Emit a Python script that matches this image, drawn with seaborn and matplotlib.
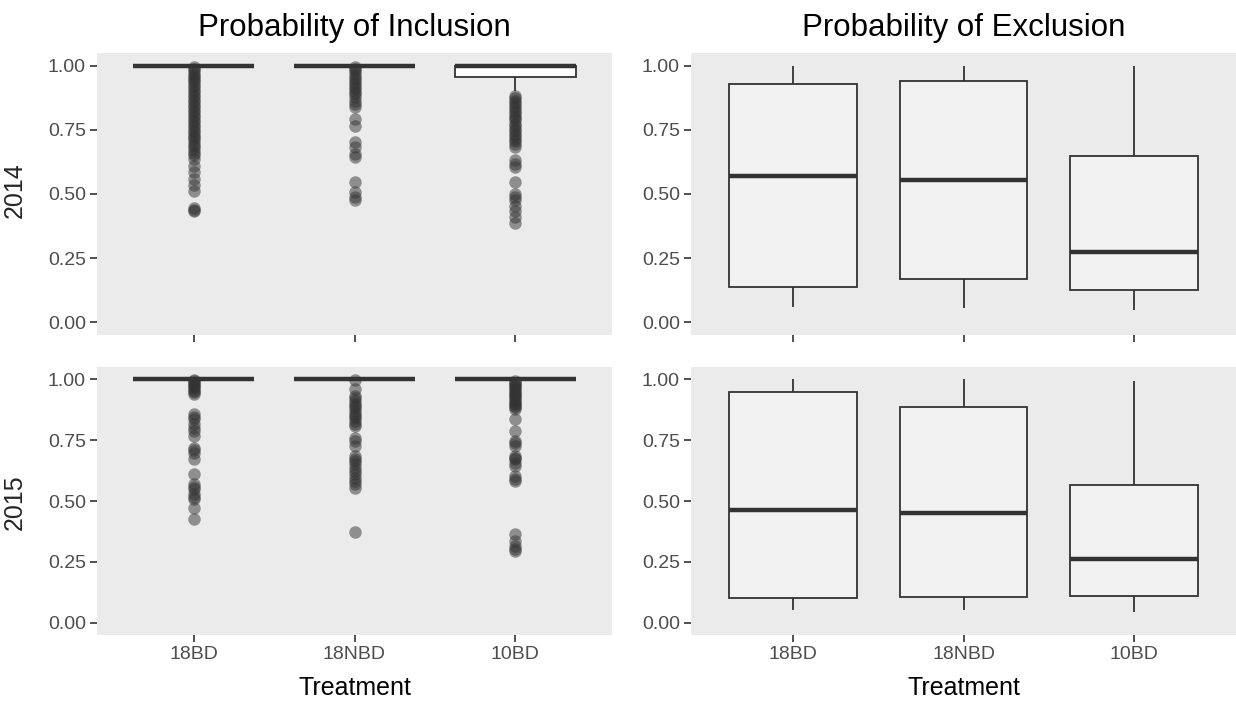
import numpy as np
import pandas as pd
import seaborn as sns
import matplotlib.pyplot as plt

treatments = ['18BD', '18NBD', '10BD']
years = ['2014', '2015']

# Probability of Inclusion: most observations sit at 1.00, the rest are outliers
incl_ones = 150
incl_2014_18BD = [0.995, 0.987, 0.978, 0.968, 0.960, 0.952, 0.944, 0.936, 0.926, 0.916,
                  0.907, 0.897, 0.887, 0.877, 0.868, 0.858, 0.848, 0.838, 0.829, 0.819,
                  0.810, 0.800, 0.790, 0.780, 0.770, 0.761, 0.751, 0.742, 0.732, 0.722,
                  0.713, 0.703, 0.693, 0.683, 0.671, 0.661, 0.651, 0.638, 0.608, 0.586,
                  0.560, 0.534, 0.511, 0.445, 0.438, 0.432]
incl_2014_18NBD = [0.995, 0.987, 0.978, 0.968, 0.958, 0.948, 0.938, 0.929, 0.919, 0.909,
                   0.899, 0.890, 0.877, 0.864, 0.851, 0.838, 0.793, 0.767, 0.702, 0.683,
                   0.657, 0.644, 0.547, 0.508, 0.489, 0.476]
# 10BD 2014 has a visible box (0.955 - 1.00) with a short lower whisker
incl_2014_10BD_outliers = [0.884, 0.874, 0.864, 0.855, 0.845, 0.835, 0.825, 0.815, 0.806,
                           0.796, 0.787, 0.774, 0.764, 0.754, 0.745, 0.735, 0.725, 0.715,
                           0.705, 0.696, 0.683, 0.631, 0.618, 0.605, 0.547, 0.499, 0.488,
                           0.476, 0.454, 0.432, 0.411, 0.388]
incl_2014_10BD_whisker = [0.90, 0.91, 0.93, 0.94]
incl_2014_10BD_q1 = [0.955] * 12
incl_2014_10BD_ones = 112

incl_2015_18BD = [0.998, 0.993, 0.986, 0.979, 0.972, 0.966, 0.959, 0.952, 0.946, 0.941,
                  0.856, 0.846, 0.836, 0.815, 0.801, 0.788, 0.767, 0.719, 0.709, 0.699,
                  0.671, 0.610, 0.568, 0.558, 0.548, 0.527, 0.517, 0.507, 0.473, 0.427]
incl_2015_18NBD = [0.995, 0.959, 0.932, 0.921, 0.911, 0.900, 0.890, 0.880, 0.870, 0.859,
                   0.849, 0.839, 0.829, 0.818, 0.808, 0.760, 0.748, 0.726, 0.685, 0.674,
                   0.664, 0.651, 0.637, 0.623, 0.610, 0.596, 0.582, 0.568, 0.555, 0.373]
incl_2015_10BD = [0.993, 0.986, 0.980, 0.973, 0.966, 0.959, 0.952, 0.945, 0.938, 0.932,
                  0.925, 0.918, 0.911, 0.904, 0.897, 0.890, 0.884, 0.877, 0.836, 0.788,
                  0.747, 0.737, 0.726, 0.685, 0.678, 0.671, 0.658, 0.644, 0.603, 0.592,
                  0.582, 0.363, 0.336, 0.315, 0.305, 0.295]

# Probability of Exclusion: min, q1, median, q3, max
excl_2014_18BD = [0.058, 0.137, 0.570, 0.931, 1.00]
excl_2014_18NBD = [0.056, 0.168, 0.554, 0.939, 1.00]
excl_2014_10BD = [0.049, 0.127, 0.272, 0.649, 1.00]
excl_2015_18BD = [0.052, 0.101, 0.463, 0.949, 1.00]
excl_2015_18NBD = [0.052, 0.107, 0.452, 0.886, 1.00]
excl_2015_10BD = [0.045, 0.112, 0.260, 0.566, 0.993]

incl = {
    '2014': {'18BD': incl_2014_18BD + [1.0] * incl_ones,
             '18NBD': incl_2014_18NBD + [1.0] * incl_ones,
             '10BD': incl_2014_10BD_outliers + incl_2014_10BD_whisker
                     + incl_2014_10BD_q1 + [1.0] * incl_2014_10BD_ones},
    '2015': {'18BD': incl_2015_18BD + [1.0] * incl_ones,
             '18NBD': incl_2015_18NBD + [1.0] * incl_ones,
             '10BD': incl_2015_10BD + [1.0] * incl_ones},
}
excl = {
    '2014': {'18BD': excl_2014_18BD, '18NBD': excl_2014_18NBD, '10BD': excl_2014_10BD},
    '2015': {'18BD': excl_2015_18BD, '18NBD': excl_2015_18NBD, '10BD': excl_2015_10BD},
}


def to_long(groups):
    rows = [(t, v) for t in treatments for v in groups[t]]
    return pd.DataFrame(rows, columns=['Treatment', 'value'])


sns.set_theme(style='dark', rc={'axes.facecolor': '#EBEBEB', 'axes.grid': False,
                                'axes.edgecolor': '#EBEBEB'})
plt.rcParams['font.family'] = ['Liberation Sans', 'DejaVu Sans']

fig = plt.figure(figsize=(12.36, 7.04), dpi=100)
W, H = 1236, 704


def panel(x0, x1, y0, y1):
    return fig.add_axes([x0 / W, 1 - y1 / H, (x1 - x0) / W, (y1 - y0) / H])


axes = {
    ('incl', '2014'): panel(97, 612, 53, 335),
    ('excl', '2014'): panel(691, 1236, 53, 335),
    ('incl', '2015'): panel(97, 612, 367, 635),
    ('excl', '2015'): panel(691, 1236, 367, 635),
}

box_kws = dict(x='Treatment', y='value', order=treatments, width=0.75,
               linecolor='#333333', linewidth=1.3, showcaps=False,
               medianprops={'linewidth': 3.2, 'color': '#333333'},
               flierprops={'marker': 'o', 'markerfacecolor': '#333333',
                           'markeredgecolor': 'none', 'alpha': 0.5, 'markersize': 9})

for (kind, year), ax in axes.items():
    groups = incl[year] if kind == 'incl' else excl[year]
    fill = 'white' if kind == 'incl' else '#F2F2F2'
    sns.boxplot(data=to_long(groups), ax=ax, color=fill, **box_kws)
    ax.set_xlim(-0.6, 2.6)
    ax.set_ylim(-0.05, 1.05)
    ax.set_yticks([0, 0.25, 0.5, 0.75, 1.0])
    ax.set_yticklabels(['0.00', '0.25', '0.50', '0.75', '1.00'])
    ax.tick_params(bottom=True, left=True, length=5, width=1.2, color='#333333',
                   labelcolor='#4D4D4D', labelsize=14, pad=3)
    for s in ax.spines.values():
        s.set_visible(False)
    ax.set_ylabel('')
    if year == '2014':
        ax.set_xlabel('')
        ax.set_xticklabels([])
        title = 'Probability of Inclusion' if kind == 'incl' else 'Probability of Exclusion'
        ax.set_title(title, fontsize=22.5, pad=12, color='black')
    else:
        ax.set_xlabel('Treatment', fontsize=18, labelpad=9, color='black')

fig.text(15 / W, 1 - 190 / H, '2014', rotation=90, ha='center', va='center', fontsize=18)
fig.text(15 / W, 1 - 502 / H, '2015', rotation=90, ha='center', va='center', fontsize=18)

fig.savefig('out.png', dpi=100, facecolor='white')
